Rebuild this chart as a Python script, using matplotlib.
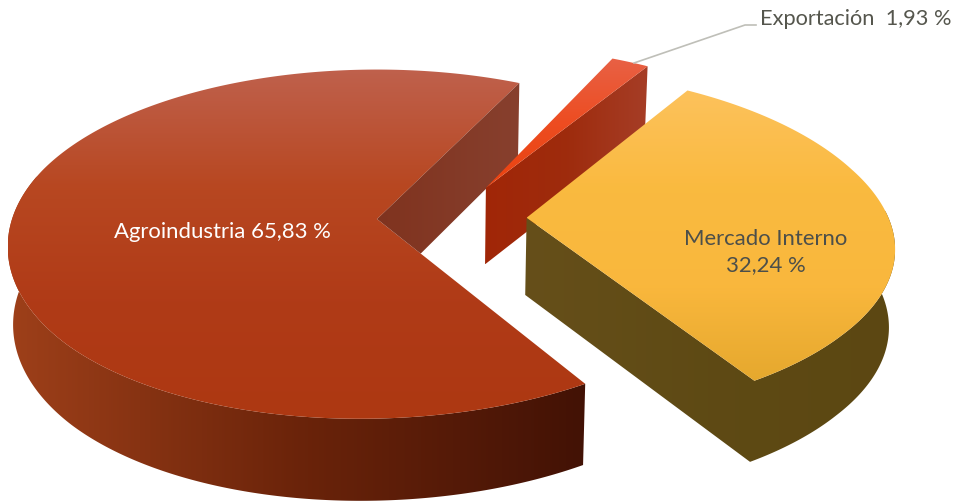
import numpy as np
import matplotlib
matplotlib.use("Agg")
import matplotlib.pyplot as plt
from matplotlib.patches import Polygon
from matplotlib.colors import LinearSegmentedColormap as LSC

categories = ["Agroindustria", "Exportación", "Mercado Interno"]
values = [65.83, 1.93, 32.24]
labels = ["Agroindustria 65,83 %", "Exportación  1,93 %", "Mercado Interno\n32,24 %"]
explode = [0.205, 0.205, 0.205]

W, H = 959, 503
fig = plt.figure(figsize=(W / 100, H / 100), dpi=100)
ax = fig.add_axes([0, 0, 1, 1])
ax.set_xlim(0, W)
ax.set_ylim(H, 0)
ax.axis("off")

# perspective projection of the pie plane
X0, Y0, A, B, K = 377, 221, 366, 171.5, 0.1437
CENTER = (0.205, -0.02)


def project(x, y):
    d = 1 - K * y
    u, v = np.asarray(x) / d, np.asarray(y) / d
    sx = X0 + A * u
    sy = Y0 + B * v
    front = np.clip(v, 0, None)
    sx = sx - 6 * front ** 2 - 2.9e-8 * np.clip(sx - X0, 0, None) ** 3
    sy = sy - 0.012 * (sx - X0) * np.clip(v + 0.3, 0, 1)
    return sx, sy


def lower(sx, sy):
    return 420 + (sx - 420) * 0.987, 1.024 * sy + 72


def slice_origin(start, end, exp):
    mid = np.radians((start + end) / 2)
    return CENTER[0] + exp * np.cos(mid), CENTER[1] + exp * np.sin(mid)


def arc(ox, oy, a0, a1, n=200):
    t = np.radians(np.linspace(a0, a1, n))
    return project(ox + np.cos(t), oy + np.sin(t))


def fill(xs, ys, stops, vertical, zorder):
    pts = np.column_stack([xs, ys])
    cmap = LSC.from_list("g", stops)
    x0, x1, y0, y1 = xs.min(), xs.max(), ys.min(), ys.max()
    grad = np.linspace(0, 1, 256)
    grad = grad[:, None] if vertical else grad[None, :]
    im = ax.imshow(grad, cmap=cmap, extent=(x0, x1, y1, y0), aspect="auto",
                   interpolation="bilinear", zorder=zorder, vmin=0, vmax=1)
    patch = Polygon(pts, closed=True, transform=ax.transData, fc="none", ec="none")
    ax.add_patch(patch)
    im.set_clip_path(patch)


def side(a0, a1, stops, zorder, ox, oy):
    sx, sy = arc(ox, oy, a0, a1)
    bx, by = lower(sx, sy)
    fill(np.r_[sx, bx[::-1]], np.r_[sy, by[::-1]], stops, False, zorder)


def cut(ox, oy, ang):
    t = np.radians(ang)
    ax_, ay_ = project(ox, oy)
    ex, ey = project(ox + np.cos(t), oy + np.sin(t))
    xs = np.array([float(ax_), float(ex)])
    ys = np.array([float(ay_), float(ey)])
    bx, by = lower(xs, ys)
    return np.r_[xs, bx[::-1]], np.r_[ys, by[::-1]]


# clockwise sweep, beginning where Agroindustria begins
start = 59.1
shares = np.array(values) / sum(values) * 360
ends = start + np.cumsum(shares)
starts = ends - shares

# Agroindustria
a0, a1 = starts[0], ends[0]
ox, oy = slice_origin(a0, a1, explode[0])
side(a0, 195, [(0.62, 0.25, 0.10), (0.42, 0.14, 0.04), (0.26, 0.07, 0.02)], 1, ox, oy)
sx, sy = arc(ox, oy, a0, a1, 400)
apx, apy = project(ox, oy)
fill(np.r_[apx, sx], np.r_[apy, sy],
     [(0.75, 0.38, 0.30), (0.72, 0.28, 0.13), (0.69, 0.23, 0.09), (0.68, 0.22, 0.07)], True, 2)
# back cut wall, hidden below the line of the front cut
wx, wy = cut(ox, oy, a1)
ex, ey = project(ox + np.cos(np.radians(a0)), oy + np.sin(np.radians(a0)))
slope = (ey - apy) / (ex - apx)
s2 = (wy[2] - wy[3]) / (wx[2] - wx[3])
ix = (wy[3] - apy + slope * apx - s2 * wx[3]) / (slope - s2)
iy = apy + slope * (ix - apx)
fill(np.array([wx[0], wx[1], wx[2], ix]), np.array([wy[0], wy[1], wy[2], iy]),
     [(0.50, 0.20, 0.12), (0.53, 0.25, 0.18)], False, 3)

# Exportación
a0, a1 = starts[1], ends[1]
ox, oy = slice_origin(a0, a1, explode[1])
wx, wy = cut(ox, oy, a1)
fill(wx, wy, [(0.63, 0.15, 0.03), (0.62, 0.17, 0.05), (0.65, 0.24, 0.15)], False, 4)
sx, sy = arc(ox, oy, a0, a1, 30)
apx, apy = project(ox, oy)
fill(np.r_[apx, sx], np.r_[apy, sy],
     [(0.91, 0.38, 0.27), (0.93, 0.30, 0.13), (0.92, 0.26, 0.06)], True, 5)

# Mercado Interno
a0, a1 = starts[2], ends[2]
ox, oy = slice_origin(a0, a1, explode[2])
apx, apy = project(ox, oy)
tx, ty = arc(ox, oy, a1, 358)
bx, by = lower(tx, ty)
lax, lay = lower(apx, apy)
fill(np.r_[apx, tx, bx[::-1], lax], np.r_[apy, ty, by[::-1], lay],
     [(0.40, 0.31, 0.10), (0.37, 0.29, 0.08), (0.36, 0.28, 0.07)], False, 6)
sx, sy = arc(ox, oy, a0, a1, 200)
fill(np.r_[apx, sx], np.r_[apy, sy],
     [(0.99, 0.76, 0.36), (0.98, 0.73, 0.25), (0.98, 0.72, 0.24), (0.90, 0.66, 0.18)], True, 7)

# leader line for the small slice
ax.plot([634, 745, 756], [63, 25, 25], color="#bfbfb8", lw=1.2, zorder=8)

font = "Lato"
ax.text(222, 232, labels[0], color="white", fontsize=15.9, family=font, ha="center", va="center", zorder=9)
ax.text(855.5, 18.5, labels[1], color="#55564d", fontsize=15.7, family=font, ha="center", va="center", zorder=9)
ax.text(766, 252, labels[2], color="#4c4f4a", fontsize=15.9, family=font, ha="center", va="center",
        linespacing=1.41, zorder=9)

ax.set_xlim(0, W)
ax.set_ylim(H, 0)
fig.savefig("out.png", dpi=100, facecolor="white")
